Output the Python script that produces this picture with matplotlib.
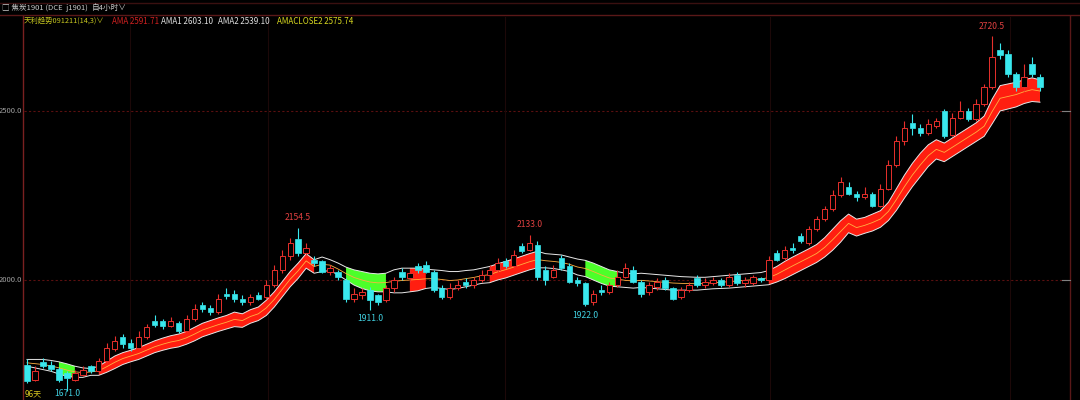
import numpy as np
import matplotlib
matplotlib.use("Agg")
import matplotlib.pyplot as plt

plt.rcParams['font.family'] = ['Noto Sans CJK SC', 'DejaVu Sans']

# ---------------- data ----------------
opens = [1750, 1705, 1758, 1748, 1738, 1725, 1705, 1720, 1745, 1730,
         1760, 1795, 1830, 1815, 1800, 1830, 1880, 1878, 1865, 1872,
         1850, 1885, 1925, 1918, 1905, 1960, 1960, 1945, 1935, 1955,
         1950, 1985, 2030, 2070, 2120, 2080, 2060, 2055, 2025, 2025,
         2000, 1945, 1955, 1970, 1955, 1940, 1975, 2025, 2005, 2040,
         2045, 2025, 1975, 1950, 1975, 1995, 1985, 2000, 2015, 2030,
         2055, 2040, 2100, 2090, 2105, 2030, 2010, 2065, 2040, 2000,
         1990, 1935, 1970, 1965, 1985, 2010, 2030, 1995, 1965, 1980,
         2000, 1975, 1950, 1970, 2005, 1985, 1990, 2000, 1985, 2015,
         1990, 1990, 2005, 2000, 2080, 2065, 2095, 2130, 2110, 2150,
         2180, 2210, 2250, 2275, 2255, 2245, 2255, 2220, 2270, 2340,
         2410, 2465, 2450, 2435, 2455, 2500, 2430, 2480, 2500, 2475,
         2520, 2570, 2680, 2670, 2610, 2570, 2640, 2600]
closes = [1700, 1730, 1745, 1738, 1705, 1710, 1725, 1735, 1730, 1760,
          1800, 1820, 1810, 1800, 1830, 1860, 1868, 1865, 1880, 1848,
          1885, 1915, 1915, 1905, 1945, 1952, 1945, 1935, 1950, 1945,
          1985, 2030, 2070, 2110, 2080, 2095, 2050, 2025, 2035, 2010,
          1945, 1960, 1965, 1940, 1935, 1975, 2000, 2010, 2020, 2030,
          2025, 1970, 1950, 1975, 1985, 1985, 2000, 2015, 2030, 2050,
          2040, 2075, 2085, 2110, 2010, 2000, 2030, 2035, 1995, 1990,
          1930, 1960, 1965, 1985, 2010, 2035, 1995, 1960, 1985, 1995,
          1975, 1945, 1970, 1985, 1985, 1995, 2000, 1985, 2010, 1990,
          2000, 2010, 2000, 2060, 2060, 2090, 2088, 2115, 2150, 2180,
          2210, 2250, 2290, 2255, 2245, 2255, 2220, 2270, 2340, 2410,
          2450, 2450, 2435, 2460, 2470, 2425, 2480, 2500, 2475, 2520,
          2570, 2660, 2665, 2610, 2570, 2600, 2610, 2570]
highs = [1765, 1745, 1770, 1760, 1742, 1730, 1735, 1745, 1750, 1770,
         1815, 1835, 1840, 1825, 1850, 1870, 1895, 1885, 1890, 1880,
         1895, 1930, 1935, 1925, 1960, 1975, 1970, 1955, 1960, 1965,
         2000, 2045, 2090, 2125, 2154.5, 2110, 2070, 2060, 2045, 2030,
         2005, 1975, 1975, 1980, 1960, 1985, 2010, 2035, 2030, 2050,
         2055, 2030, 1985, 1990, 2000, 2005, 2010, 2030, 2045, 2065,
         2065, 2090, 2110, 2133, 2115, 2040, 2045, 2075, 2050, 2008,
         1995, 1970, 1985, 1995, 2030, 2050, 2040, 2000, 1995, 2005,
         2010, 1980, 1980, 1995, 2015, 2005, 2010, 2005, 2020, 2025,
         2010, 2015, 2010, 2070, 2090, 2100, 2110, 2140, 2160, 2190,
         2220, 2265, 2305, 2290, 2262, 2275, 2260, 2285, 2355, 2425,
         2470, 2490, 2460, 2475, 2480, 2505, 2495, 2530, 2510, 2535,
         2580, 2720.5, 2700, 2680, 2615, 2640, 2660, 2610]
lows = [1695, 1700, 1740, 1730, 1698, 1671, 1700, 1715, 1725, 1725,
        1755, 1790, 1800, 1790, 1795, 1825, 1860, 1855, 1860, 1842,
        1845, 1880, 1905, 1895, 1900, 1945, 1935, 1925, 1925, 1940,
        1945, 1980, 2020, 2060, 2070, 2070, 2040, 2020, 2015, 2000,
        1935, 1935, 1945, 1911, 1925, 1935, 1965, 2000, 1995, 2020,
        2020, 1965, 1945, 1945, 1970, 1975, 1975, 1995, 2010, 2025,
        2035, 2035, 2080, 2085, 2000, 1985, 2005, 2030, 1990, 1982,
        1922, 1925, 1955, 1960, 1980, 2005, 1990, 1950, 1955, 1970,
        1970, 1940, 1945, 1965, 1980, 1975, 1985, 1980, 1980, 1985,
        1980, 1985, 1995, 1995, 2055, 2060, 2080, 2110, 2105, 2145,
        2175, 2205, 2245, 2250, 2235, 2240, 2215, 2215, 2265, 2335,
        2400, 2430, 2425, 2430, 2450, 2420, 2425, 2475, 2470, 2470,
        2515, 2565, 2655, 2600, 2560, 2560, 2600, 2560]

band_upper = [1765, 1765, 1765, 1762, 1758, 1752, 1745, 1740, 1738, 1745,
              1760, 1775, 1785, 1792, 1800, 1810, 1820, 1828, 1835, 1840,
              1848, 1860, 1872, 1880, 1888, 1895, 1905, 1900, 1912, 1920,
              1940, 1965, 1995, 2025, 2050, 2078, 2060, 2068, 2060, 2050,
              2038, 2030, 2025, 2020, 2018, 2020, 2030, 2035, 2035, 2035,
              2032, 2030, 2028, 2025, 2025, 2028, 2030, 2035, 2040, 2048,
              2055, 2062, 2070, 2078, 2085, 2078, 2076, 2074, 2068, 2062,
              2058, 2050, 2040, 2030, 2025, 2020, 2018, 2020, 2018, 2016,
              2014, 2012, 2010, 2009, 2008, 2008, 2010, 2012, 2014, 2016,
              2018, 2020, 2022, 2028, 2040, 2055, 2068, 2080, 2092, 2105,
              2125, 2150, 2175, 2195, 2180, 2185, 2195, 2205, 2230, 2270,
              2310, 2345, 2375, 2400, 2415, 2405, 2420, 2435, 2450, 2465,
              2485, 2535, 2575, 2580, 2585, 2592, 2598, 2592]
band_lower = [1745, 1740, 1735, 1730, 1722, 1715, 1712, 1712, 1718, 1718,
              1727, 1738, 1750, 1758, 1765, 1775, 1785, 1792, 1798, 1802,
              1810, 1820, 1832, 1840, 1848, 1855, 1862, 1860, 1872, 1880,
              1895, 1920, 1950, 1980, 2005, 2035, 2020, 2025, 2028, 2015,
              2000, 1985, 1975, 1968, 1965, 1965, 1962, 1962, 1965, 1968,
              1975, 1978, 1975, 1972, 1975, 1980, 1985, 1990, 1992, 2000,
              2006, 2014, 2022, 2030, 2036, 2036, 2034, 2030, 2025, 2015,
              2010, 2000, 1990, 1982, 1980, 1978, 1976, 1978, 1976, 1974,
              1972, 1970, 1970, 1970, 1970, 1972, 1974, 1975, 1976, 1978,
              1980, 1982, 1984, 1986, 1994, 2004, 2016, 2028, 2040, 2052,
              2068, 2088, 2112, 2140, 2130, 2138, 2145, 2156, 2176, 2206,
              2242, 2276, 2306, 2336, 2358, 2350, 2365, 2380, 2395, 2410,
              2425, 2462, 2500, 2506, 2512, 2522, 2528, 2526]
# 1 = rising (red fill), -1 = falling (green fill), 0 = no fill
band_state = [0, 0, 0, 0, -1, -1, -1, 0, 0, 1,
              1, 1, 1, 1, 1, 1, 1, 1, 1, 1,
              1, 1, 1, 1, 1, 1, 1, 1, 1, 1,
              1, 1, 1, 1, 1, 1, 1, 0, 0, 0,
              -1, -1, -1, -1, -1, -1, 0, 0, 1, 1,
              1, 0, 0, 0, 0, 0, 0, 0, 1, 1,
              1, 1, 1, 1, 1, 0, 0, 0, 0, 0,
              -1, -1, -1, -1, -1, 0, 0, 0, 0, 0,
              0, 0, 0, 0, 0, 0, 0, 0, 0, 0,
              0, 0, 0, 1, 1, 1, 1, 1, 1, 1,
              1, 1, 1, 1, 1, 1, 1, 1, 1, 1,
              1, 1, 1, 1, 1, 1, 1, 1, 1, 1,
              1, 1, 1, 1, 1, 1, 1, 1]

ytick_vals = [2000.0, 2500.0]
extreme_labels = [(34, 2154.5, "2154.5", "high"), (43, 1911.0, "1911.0", "low"),
                  (63, 2133.0, "2133.0", "high"), (70, 1922.0, "1922.0", "low"),
                  (121, 2720.5, "2720.5", "high"), (5, 1671.0, "1671.0", "bottom")]

# ---------------- drawing ----------------
UP = '#e8302c'
DOWN = '#39e8ee'
BG = '#000000'
GRID = '#5a1010'
FS = 5.8

o = np.array(opens, float); c = np.array(closes, float)
h = np.array(highs, float); l = np.array(lows, float)
up_b = np.array(band_upper, float); lo_b = np.array(band_lower, float)
st = np.array(band_state)
n = len(o)
x = np.arange(n)

fig = plt.figure(figsize=(10.8, 4.0), dpi=100, facecolor=BG)
ax = fig.add_axes([24/1080, 0, (1068-24)/1080, 383/400])
ax.set_facecolor(BG)

step = (1040 - 27) / (n - 1)
xl = -3/step
xr = (1068 - 27)/step
ax.set_xlim(xl, xr)
ax.set_ylim(1645, 2778)

for s in ax.spines.values():
    s.set_visible(False)
ax.set_xticks([]); ax.set_yticks([])

# grid
for v in ytick_vals:
    ax.axhline(v, color=GRID, lw=0.8, ls=(0, (2, 2)), zorder=0)
for px in [130, 268, 505, 770, 1010]:
    ax.axvline((px - 27)/step, color='#1c0808', lw=0.8, zorder=0)

# band
ax.fill_between(x, lo_b, up_b, where=(st == 1), color='#ff1e10', lw=0, zorder=1)
ax.fill_between(x, lo_b, up_b, where=(st == -1), color='#4cff2a', lw=0, zorder=1)
ax.plot(x, up_b, color='#e8e8e8', lw=0.7, zorder=2)
ax.plot(x, lo_b, color='#e8e8e8', lw=0.7, zorder=2)
ax.plot(x, (up_b + lo_b) / 2, color='#ffb040', lw=0.6, zorder=2)

# candles
w = 0.68
is_up = c >= o
for i in range(n):
    top = max(o[i], c[i]); bot = min(o[i], c[i])
    col = UP if is_up[i] else DOWN
    ax.plot([i, i], [h[i], top], color=col, lw=0.8, zorder=3, solid_capstyle='butt')
    ax.plot([i, i], [bot, l[i]], color=col, lw=0.8, zorder=3, solid_capstyle='butt')
    if is_up[i]:
        ax.add_patch(plt.Rectangle((i - w/2, bot), w, max(top - bot, 1.5),
                                   facecolor=BG, edgecolor=UP, lw=0.7, zorder=4))
    else:
        ax.add_patch(plt.Rectangle((i - w/2, bot), w, max(top - bot, 1.5),
                                   facecolor=DOWN, edgecolor=DOWN, lw=0.5, zorder=4))

# extreme labels
for idx, val, txt, kind in extreme_labels:
    if kind == "high":
        ax.annotate(txt, (idx, val), xytext=(0, 4), textcoords='offset points',
                    ha='center', va='bottom', color='#e04040', fontsize=FS + 0.4)
    elif kind == "low":
        ax.annotate(txt, (idx, val), xytext=(0, -3), textcoords='offset points',
                    ha='center', va='top', color='#40d0e0', fontsize=FS + 0.4)
    else:
        xf = ax.transData.transform((idx, val))[0] / 1080
        fig.text(xf, 6/400, txt, ha='center', va='center', color='#40d0e0', fontsize=FS + 0.4)

# ---------------- figure-level decorations ----------------
fig.add_artist(plt.Line2D([23/1080, 23/1080], [0, 1 - 16/400], color='#7a2020', lw=1.0))
fig.add_artist(plt.Line2D([1070/1080, 1070/1080], [0, 1 - 16/400], color='#5a1818', lw=1.0))
fig.add_artist(plt.Line2D([0, 1], [1 - 15/400, 1 - 15/400], color='#5a1818', lw=1.0))
fig.add_artist(plt.Line2D([0, 1], [1 - 3/400, 1 - 3/400], color='#3a1010', lw=1.0))

# y tick labels (left)
for v in ytick_vals:
    yf = ax.transData.transform((0, v))[1] / 400
    fig.text(22/1080, yf, f"{v:.1f}", ha='right', va='center', color='#a0a0a0', fontsize=5.5)
    fig.add_artist(plt.Line2D([1062/1080, 1070/1080], [yf, yf], color='#808080', lw=0.8))

# header row 1
fig.text(2/1080, 1 - 8/400, "□ 焦炭1901 (DCE  j1901)", ha='left', va='center',
         color='#c8c8c8', fontsize=5.5)
fig.text(92/1080, 1 - 8/400, "自4小时∨", ha='left', va='center', color='#c8c8c8', fontsize=5.5)

# header row 2
fig.text(24/1080, 1 - 21/400, "天利趋势091211(14,3)∨", ha='left', va='center',
         color='#c8c820', fontsize=5.3)
fig.text(112/1080, 1 - 21/400, "AMA 2591.71", ha='left', va='center', color='#d02020', fontsize=FS)
fig.text(161/1080, 1 - 21/400, "AMA1 2603.10", ha='left', va='center', color='#e0e0e0', fontsize=FS)
fig.text(218/1080, 1 - 21/400, "AMA2 2539.10", ha='left', va='center', color='#e0e0e0', fontsize=FS)
fig.text(277/1080, 1 - 21/400, "AMACLOSE2 2575.74", ha='left', va='center', color='#d8d820', fontsize=FS)

# bottom-left
fig.text(25/1080, 6/400, "96天", ha='left', va='center', color='#d8c820', fontsize=FS)

fig.savefig("out.png", dpi=100, facecolor=BG)
